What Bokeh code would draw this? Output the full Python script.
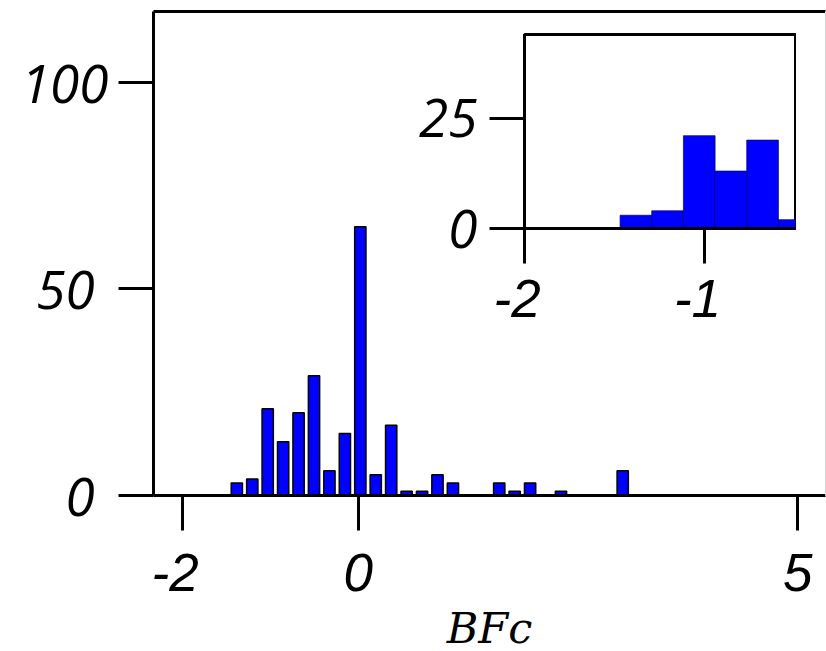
import numpy as np
from bokeh.plotting import figure
from bokeh.models import Range1d, FixedTicker, LinearAxis, ColumnDataSource
from bokeh.layouts import column
from bokeh.embed import file_html
from bokeh.resources import INLINE

# ---------------- data ----------------
bin_width = 0.1756
first_bin_center = -1.382
counts = [3, 4, 21, 13, 20, 29, 6, 15, 65, 5, 17, 1, 1, 5, 3, 0, 0, 3, 1, 3, 0, 1, 0, 0, 0, 6]
inset_counts = [3, 4, 21, 13, 20, 2]
main_x_ticks = [-2, 0, 5]
main_y_ticks = [0, 50, 100]
inset_x_ticks = [-2, -1]
inset_y_ticks = [0, 25]
x_label = "BFc"

NBSP = "\u00a0"  # trailing pad nudges a label sideways, as in the reference

centers = first_bin_center + bin_width * np.arange(len(counts))
main_src = ColumnDataSource(dict(x=[c for c, n in zip(centers, counts) if n > 0],
                                 top=[n for n in counts if n > 0]))
ic = centers[:len(inset_counts)]
inset_src = ColumnDataSource(dict(left=ic - bin_width / 2, right=ic + bin_width / 2,
                                  top=inset_counts))


def style_axis(ax, font, standoff, ticks, padded=()):
    ax.ticker = FixedTicker(ticks=ticks)
    ax.major_label_overrides = {t: str(t) + (NBSP if t in padded else "") for t in ticks}
    ax.axis_line_width = 3
    ax.axis_line_color = "black"
    ax.major_tick_line_width = 3
    ax.major_tick_line_color = "black"
    ax.major_tick_out = 35
    ax.major_tick_in = 0
    ax.minor_tick_out = 0
    ax.minor_tick_in = 0
    ax.major_label_text_font = font
    ax.major_label_text_font_style = "italic"
    ax.major_label_text_font_size = "53px"
    ax.major_label_text_color = "black"
    ax.major_label_standoff = standoff


# ---------------- main plot ----------------
xr = Range1d(-2.33, 5.315)
yr = Range1d(0, 117.1)
p = figure(width=826, height=651, x_range=xr, y_range=yr,
           output_backend="svg", toolbar_location=None, x_axis_type=None, y_axis_type=None,
           min_border_left=153, min_border_right=1, min_border_top=11, min_border_bottom=156)
p.outline_line_color = None
p.background_fill_color = "white"
p.border_fill_color = "white"

p.vbar(x="x", top="top", bottom=0, width=bin_width * 0.73, source=main_src,
       fill_color="#0000FF", line_color="black", line_width=1.5)

xa = LinearAxis()
style_axis(xa, "Liberation Sans", 12, main_x_ticks, padded=(-2,))
p.add_layout(xa, "below")

ya = LinearAxis()
style_axis(ya, "Open Sans", 10, main_y_ticks, padded=(0, 50))
p.add_layout(ya, "left")

top_ax = LinearAxis()
style_axis(top_ax, "Open Sans", 0, [])
top_ax.major_tick_out = 0
p.add_layout(top_ax, "above")

right_ax = LinearAxis()
style_axis(right_ax, "Open Sans", 0, [])
right_ax.major_tick_out = 0
right_ax.axis_line_width = 1
right_ax.axis_line_color = "#d4d4d4"
p.add_layout(right_ax, "right")

# ---------------- inset ----------------
q = figure(frame_width=271, frame_height=194, x_range=Range1d(-2, -0.497), y_range=Range1d(0, 43.9),
           output_backend="svg", toolbar_location=None, x_axis_type=None, y_axis_type=None,
           min_border_left=153, min_border_right=1, min_border_top=5, min_border_bottom=100)
q.outline_line_color = "black"
q.outline_line_width = 3
q.background_fill_color = "white"
q.border_fill_color = None

q.quad(left="left", right="right", top="top", bottom=0, source=inset_src,
       fill_color="#0000FF", line_color="#000066", line_width=0.7)

qx = LinearAxis()
style_axis(qx, "Liberation Sans", 5, inset_x_ticks, padded=(-2, -1))
q.add_layout(qx, "below")
qy = LinearAxis()
style_axis(qy, "Open Sans", 12, inset_y_ticks)
q.add_layout(qy, "left")

q.margin = (-622, 0, 323, 371)

# ---------------- x-axis title: axis label of a flat strip under the main plot ----------------
t = figure(frame_width=672, frame_height=1, x_range=Range1d(-1, 1), y_range=Range1d(0, 1),
           output_backend="svg", toolbar_location=None, x_axis_type=None, y_axis_type=None,
           min_border_left=153, min_border_right=1, min_border_top=0, min_border_bottom=51)
t.outline_line_color = None
t.background_fill_color = None
t.border_fill_color = None
ta = LinearAxis(ticker=FixedTicker(ticks=[]), axis_label=x_label)
ta.axis_line_color = None
ta.major_tick_out = 0
ta.major_tick_in = 0
ta.minor_tick_out = 0
ta.minor_tick_in = 0
ta.major_label_standoff = 0
ta.axis_label_standoff = 0
ta.axis_label_text_font = "DejaVu Serif"
ta.axis_label_text_font_style = "italic"
ta.axis_label_text_font_size = "43px"
ta.axis_label_text_color = "black"
t.add_layout(ta, "below")
t.margin = (-52, 0, 0, 0)

layout = column(p, q, t)
open("out.html", "w").write(file_html(layout, INLINE))
